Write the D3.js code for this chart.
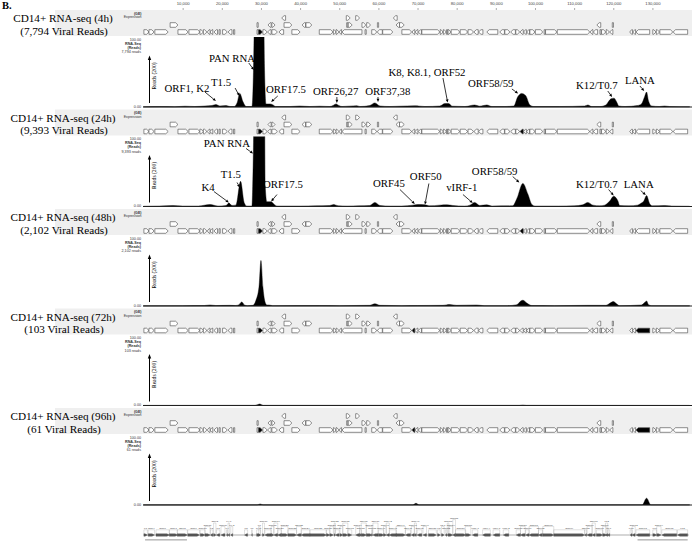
<!DOCTYPE html>
<html><head><meta charset="utf-8">
<script src="https://cdn.jsdelivr.net/npm/d3@7"></script>
<style>body{margin:0;background:#fff}svg{display:block}</style>
</head><body><svg id="c" width="696" height="541"></svg>
<script>
// ---------------- DATA ----------------
const axisTicks = [10,20,30,40,50,60,70,80,90,100,110,120,130]; // kb
const panelTitles = ["CD14+ RNA-seq (4h)","CD14+ RNA-seq (24h)","CD14+ RNA-seq (48h)","CD14+ RNA-seq (72h)","CD14+ RNA-seq (96h)"];
const viralReads = ["7,794","9,393","2,102","103","61"];

// coverage: [position kb, reads (% of 100.00 scale)]
const cov4h = [[0,0.4],[4.2,0.7],[8.0,0.4],[10.6,1.2],[13.1,0.7],[15.7,1.5],[17.5,2.2],[18.5,3.7],[19.5,1.5],[21.1,2.2],[22.1,0.7],[23.1,0.7],[23.9,6],[24.6,20],[25.4,8],[26.2,0.7],[27.7,0.7],[28.2,90],[28.5,250],[30.5,250],[30.9,60],[31.3,4.5],[32.3,4.5],[33.1,3],[33.8,0.7],[37.4,0.7],[39.9,1.5],[42.5,0.7],[45.0,1.2],[47.6,0.7],[48.4,2.2],[49.2,4.5],[49.9,2.2],[50.7,0.7],[54.5,2],[55.3,0.7],[57.8,2.2],[59.1,6],[60.4,1.5],[62.9,0.7],[65.5,1.2],[69.3,1.8],[71.9,0.7],[75.7,1.5],[77.0,5],[78.0,5],[78.8,1.2],[82.1,0.7],[84.6,3],[85.9,1.2],[87.7,3],[89.0,0.7],[92.3,0.7],[94.6,1.5],[95.6,15],[96.6,20],[97.6,17],[98.7,3],[99.7,0.7],[106.3,0.7],[112.7,1.5],[113.5,3],[114.5,0.7],[116.6,0.7],[118.1,3],[119.4,12],[120.2,13],[120.9,7],[121.4,1.5],[123.0,0.7],[126.2,2.2],[127.2,4.5],[128.0,15],[128.5,22],[129.0,9],[129.8,1.5],[131.8,0.7],[133.1,1.5],[134.4,0.7],[139.5,0.4]];
const cov24h = [[0,0.4],[4.0,0.7],[7.5,1.5],[10.0,0.7],[14.0,0.7],[17.0,3],[19.0,0.7],[21.1,1.5],[21.8,5],[22.6,1.5],[23.6,2],[24.8,37],[25.7,6],[26.4,0.7],[27.7,0.7],[28.0,60],[28.5,250],[30.8,250],[31.1,30],[31.5,7],[32.6,7],[33.6,2],[34.3,0.7],[40,0.7],[44,1],[47.6,1.5],[48.6,3],[49.7,1],[52,0.7],[55,1],[57.8,1.5],[59.1,6],[60.4,1.5],[63,0.7],[66,0.7],[68.8,2],[70.1,3],[71.9,2.5],[73.1,1],[75.7,2],[77.5,2.5],[79.0,1.5],[82,0.7],[83.4,2],[84.6,6],[85.9,1.5],[87.7,2.5],[89,0.7],[94.3,1],[95.4,12],[96.9,34],[98.2,18],[99.2,3],[100.0,0.7],[106,0.7],[110,1],[112.2,2.5],[113.5,6],[114.8,2],[116.5,1],[117.8,2],[119.1,8],[120.1,15],[121.2,8],[121.6,1.5],[124,1],[126.2,2],[127.0,4.5],[127.8,8],[128.5,16],[129.3,4],[130.0,1],[133.1,1.5],[135,0.7],[139.5,0.4]];
const cov48h = [[0,0.3],[10,0.5],[15.5,0.7],[17.0,1.5],[18.5,0.7],[22.1,1],[23.5,0.7],[24.4,2],[25.1,6],[25.8,1.5],[26.5,0.5],[28.0,1],[28.7,8],[29.5,28],[30.0,67],[30.5,28],[31.0,7],[31.5,1.5],[32.0,1.5],[33,0.5],[45,0.7],[50,0.5],[57.8,1],[59.1,3.3],[60.4,1],[66,0.5],[70,0.7],[76.5,1],[78.2,2.2],[80,1],[85.1,1.5],[87,0.5],[93,0.5],[95.4,2],[96.3,7],[96.9,8.5],[98.0,4],[99.2,0.7],[105,0.5],[113.5,1],[118.1,1],[119.4,5],[120.0,6.5],[120.9,3],[121.6,0.5],[127.2,1.5],[128.0,5],[128.5,7.5],[129.0,2],[129.8,0.5],[139.5,0.3]];
const cov72h = [[0,0.2],[28.5,0.3],[29.7,2.2],[30.6,0.3],[96.0,0.3],[96.9,0.8],[97.8,0.3],[139.5,0.2]];
const cov96h = [[0,0.2],[29.0,0.2],[29.8,1.5],[30.6,0.2],[68.8,0.2],[69.6,2.5],[70.4,0.2],[127.4,0.3],[128.5,10],[129.6,0.3],[139.5,0.2]];
const coverage = [cov4h, cov24h, cov48h, cov72h, cov96h];

// peak annotations: [text, label kb, label value, arrow tail kb, tail value, tip kb, tip value]
const notes4h = [
  ["ORF1, K2",11.1,22,15.7,22,18.5,8.8],
  ["T1.5",19.8,30.9,23.4,27.9,24.5,16.2],
  ["PAN RNA",22.6,66,26.9,64.7,28.2,54.4],
  ["ORF17.5",36.4,20.6,34.3,16.2,32.6,7.4],
  ["ORF26,27",49.1,17.6,49.4,14.7,49.4,5.9],
  ["ORF37,38",62.4,17.6,59.9,14.7,59.9,7.4],
  ["K8, K8.1, ORF52",72.4,45.6,76.5,42.6,77.7,6.6],
  ["ORF58/59",88.7,29.4,94.1,26.5,95.7,19.9],
  ["K12/T0.7",115.8,26.5,118.6,23.5,119.7,14.7],
  ["LANA",126.8,33.8,126.8,30.9,127.9,23.5]
];
const notes24h = [
  ["PAN RNA",21.3,88.2,26.2,85.3,28.0,77.9],
  ["T1.5",22.3,41.2,23.9,35.3,24.6,27.9],
  ["K4",16.5,23.5,18.0,22,21.8,5.9],
  ["ORF17.5",35.6,26.5,34.1,17.6,32.6,7.4],
  ["ORF45",62.7,29.4,65.5,25,69.3,3.7],
  ["ORF50",72.1,39.7,72.9,33.8,71.9,2.9],
  ["vIRF-1",81.3,23.5,81.6,17.6,84.1,5.1],
  ["ORF58/59",89.7,45.6,94.3,44.1,96.0,35.3],
  ["K12/T0.7",115.8,26.5,118.8,25,120.1,16.2],
  ["LANA",126.5,26.5,127.0,23.5,128.3,16.9]
];
const notes = [notes4h, notes24h, [], [], []];

// expression-track gene glyphs: [start kb, end kb, strand (1 right, -1 left, 0 bar), row]
const genes = [
 [0.1,1.4,1,0],[1.4,2.7,1,0],[2.9,6.3,1,0],[6.8,8.8,1,1],[8.8,11.4,1,0],[11.6,14.4,1,0],[14.4,15.3,1,0],[15.3,16.2,1,0],
 [16.3,17.0,-1,0],[17.0,17.7,-1,0],[18.0,18.9,-1,0],[19.0,19.9,0,0],[20.2,21.4,1,0],[21.6,22.6,-1,0],[23.0,23.3,0,0],
 [29.0,29.3,0,0],[29.0,29.3,0,1],[29.4,30.4,1,0],[30.5,31.6,1,0],[31.7,32.6,-1,0],[32.8,34.2,1,0],[34.6,35.8,-1,0],
 [31.8,32.6,-1,1],[32.8,33.6,1,1],[35.9,37.9,1,1],[35.3,36.3,-1,2],
 [37.9,40.0,1,0],[40.5,41.4,-1,1],[41.5,43.0,1,1],[44.9,48.4,1,0],[48.5,49.2,1,0],[49.2,49.9,1,0],[50.0,50.6,-1,0],[50.7,55.8,-1,0],
 [51.9,52.2,0,1],[52.3,53.3,1,1],[51.8,52.8,1,2],[54.2,55.2,1,2],[55.8,56.8,1,1],[57.0,58.0,1,1],[59.8,60.0,0,1],
 [56.6,56.9,0,0],[58.3,59.6,1,0],[59.7,61.0,-1,0],[61.1,63.7,1,0],[63.8,64.8,-1,2],[64.5,65.4,-1,1],[65.4,66.6,1,1],
 [66.0,68.5,1,0],[68.6,69.3,-1,0],[69.4,70.1,-1,0],[70.2,71.0,-1,0],[71.1,75.7,1,0],[75.8,76.5,1,0],[76.6,77.3,1,0],[77.4,77.7,0,0],
 [77.8,78.5,1,0],[78.6,80.8,1,0],[80.9,82.8,1,0],[82.9,84.3,1,0],[84.4,85.5,-1,0],[85.6,86.7,-1,0],[87.7,90.5,-1,0],[91.0,92.2,-1,0],
 [92.3,93.6,1,0],[93.8,95.0,-1,0],[95.1,96.1,1,0],[96.2,97.0,-1,0],[97.1,97.8,-1,0],[97.9,98.6,-1,0],[98.7,100.0,1,0],[100.1,102.0,1,0],
 [102.4,102.6,0,0],[102.7,105.6,1,0],[105.7,114.0,1,0],[114.1,114.8,-1,0],[114.9,116.0,-1,0],[116.6,116.9,0,0],[117.0,118.1,1,0],
 [118.2,119.0,1,0],[119.1,119.9,-1,0],[115.8,116.8,-1,1],[119.8,120.0,0,1],
 [124.2,124.9,-1,0],[125.0,125.7,-1,0],[125.8,129.3,-1,0],[130.1,130.9,1,0],[131.0,131.8,1,0],[131.9,135.2,1,0],[135.3,139.0,-1,0]
];
// genes drawn filled in each panel (by start kb)
const highlighted = [[29.4],[29.4,96.2],[29.4,96.2],[29.4,68.6,125.8],[29.4,68.6,125.8]];

// bottom genome map: [name, start kb, end kb, strand]
const mapGenes = [
 ["K1",0.1,1.0,1],["ORF4",1.2,2.8,1],["ORF6",3.2,6.6,1],["ORF7",6.6,8.7,1],["ORF8",8.6,11.2,1],["ORF9",11.3,14.3,1],
 ["ORF10",14.5,15.7,1],["ORF11",15.7,17.0,1],["K2",17.1,17.7,-1],["ORF2",17.9,18.5,1],["K3",18.6,19.5,-1],["ORF70",19.8,20.8,-1],
 ["K4",21.2,21.5,-1],["K4.1",21.6,22.0,-1],["K4.2",22.3,22.8,-1],["K5",25.8,26.6,-1],["K6",27.6,27.8,-1],
 ["PAN",28.9,29.9,1],["K7",29.4,29.8,1],["ORF16",30.4,30.9,1],["ORF17",31.0,32.6,-1],["ORF18",32.6,33.3,1],
 ["ORF19",33.3,34.3,-1],["ORF20",34.3,35.2,-1],["ORF21",35.2,36.9,1],["ORF22",36.9,39.1,1],["ORF23",39.1,40.3,-1],
 ["ORF24",40.3,42.5,-1],["ORF25",42.5,46.7,1],["ORF26",46.7,47.6,1],["ORF27",47.6,48.5,1],["ORF28",48.7,49.0,1],
 ["ORF29",49.0,50.0,-1],["ORF31",50.2,50.9,1],["ORF32",50.9,52.2,1],["ORF33",52.2,53.2,1],["ORF34",54.2,55.2,-1],
 ["ORF35",55.2,55.7,1],["ORF36",55.6,56.9,1],["ORF37",56.9,58.4,1],["ORF38",58.3,58.5,1],["ORF39",58.6,59.9,-1],
 ["ORF40",60.0,61.4,1],["ORF41",61.3,62.0,1],["ORF42",62.0,62.8,-1],["ORF43",62.8,64.6,-1],["ORF44",64.5,66.9,1],
 ["ORF45",66.9,68.2,-1],["ORF46",68.4,69.2,-1],["ORF47",69.2,69.7,-1],["ORF48",69.9,71.1,-1],["ORF49",71.4,72.3,-1],
 ["ORF50",72.8,74.8,1],["K8",75.1,75.8,1],["K8.1",76.1,76.8,1],["ORF52",77.1,77.5,-1],["ORF53",77.6,78.0,-1],
 ["ORF54",78.0,79.0,1],["ORF55",79.0,79.7,-1],["ORF56",79.7,82.3,1],["ORF57",82.2,83.6,1],["vIRF-1",84.0,85.4,-1],
 ["vIRF-4",86.6,88.6,-1],["vIRF-3",89.3,91.0,-1],["vIRF-2",91.9,93.3,-1],["ORF58",95.2,96.3,-1],["ORF59",96.3,97.5,-1],
 ["ORF60",97.6,98.5,-1],["ORF61",98.5,100.9,-1],["ORF62",100.9,101.9,-1],["ORF63",102.0,104.8,1],["ORF64",104.8,112.7,1],
 ["ORF65",112.7,113.2,-1],["ORF66",113.3,114.6,-1],["ORF67",114.6,115.4,-1],["ORF68",115.7,117.3,1],["ORF69",117.3,118.3,1],
 ["K12",118.0,118.6,-1],["T0.7",118.6,119.1,-1],["K13",124.3,124.8,-1],["ORF72",124.8,125.6,-1],["ORF73",125.8,129.3,-1],
 ["K14",130.1,131.1,1],["ORF74",131.1,132.2,1],["ORF75",132.4,136.2,-1],["K15",136.4,139.0,-1]
];
const mapBars = [[0.4,11.1],[126.2,139.0]];

// ---------------- DRAW ----------------
const svg = d3.select("#c");
const serif = "'Liberation Serif','Times New Roman',serif";
const sans = "'Liberation Sans',Arial,sans-serif";
const x = d3.scaleLinear().domain([0,139.6]).range([143.5,690]);
const trackH = 68;
const tops = panelTitles.map((d,i)=>39 + i*99.5);

svg.append("text").attr("x",2).attr("y",9.4).attr("font-family",serif).attr("font-weight","bold")
  .attr("font-size",10.5).text("B.");

const axG = svg.append("g").attr("transform","translate(0,11)")
  .call(d3.axisTop(x).tickValues(axisTicks).tickSize(3).tickFormat(d=>d3.format(",")(d*1000)));
axG.select(".domain").remove();
axG.selectAll("line").attr("stroke","#555").attr("stroke-width",0.5);
axG.selectAll("text").attr("font-family",sans).attr("font-size",4.2).attr("fill","#444").attr("dy","0.1em");

function glyphPath(s,e,strand,yc,h){
  let a=x(s), b=x(e); let w=b-a;
  if(strand===0){ const c=(a+b)/2; return `M${c-0.6},${yc-h/2}h1.2v${h}h-1.2Z`; }
  const tip=Math.min(2.4,w*0.7);
  if(strand===1) return `M${a},${yc-h/2}L${b-tip},${yc-h/2}L${b},${yc}L${b-tip},${yc+h/2}L${a},${yc+h/2}Z`;
  return `M${b},${yc-h/2}L${a+tip},${yc-h/2}L${a},${yc}L${a+tip},${yc+h/2}L${b},${yc+h/2}Z`;
}

tops.forEach((T,i)=>{
  const B = T + trackH;
  const g = svg.append("g");
  g.append("rect").attr("x",55).attr("y",T-29).attr("width",637).attr("height",26).attr("fill","#efefef");
  g.append("text").attr("x",63).attr("y",T-17).attr("text-anchor","middle").attr("font-family",serif)
    .attr("font-size",11.2).text(panelTitles[i]);
  g.append("text").attr("x",64).attr("y",T-4.4).attr("text-anchor","middle").attr("font-family",serif)
    .attr("font-size",11.2).text("("+viralReads[i]+" Viral Reads)");
  g.append("text").attr("x",141.5).attr("y",T-24.5).attr("text-anchor","end").attr("font-family",sans)
    .attr("font-size",3.6).attr("font-weight","bold").attr("fill","#333").text("(GE)");
  g.append("text").attr("x",141.5).attr("y",T-21).attr("text-anchor","end").attr("font-family",sans)
    .attr("font-size",3.6).attr("fill","#333").text("Expression");
  const small = ["100.00","RNA-Seq","(Reads)",viralReads[i]+" reads"];
  small.forEach((t,k)=>g.append("text").attr("x",141).attr("y",T+1.5+k*4.2).attr("text-anchor","end")
    .attr("font-family",sans).attr("font-size",3.7).attr("font-weight",k>0&&k<3?"bold":"normal").attr("fill","#333").text(t));
  g.append("text").attr("x",141).attr("y",B+0.5).attr("text-anchor","end").attr("font-family",sans)
    .attr("font-size",3.7).attr("fill","#333").text("0.00");
  const rowY = [T-7, T-14, T-21];
  g.selectAll("path.gene").data(genes).join("path").attr("class","gene")
    .attr("d",d=>glyphPath(d[0],d[1],d[2],rowY[d[3]],4.6))
    .attr("fill",d=>highlighted[i].includes(d[0])&&d[3]===0?"#000":"#fff")
    .attr("stroke","#444").attr("stroke-width",0.6);
  g.append("line").attr("x1",149.5).attr("x2",149.5).attr("y1",B-4).attr("y2",T+20)
    .attr("stroke","#000").attr("stroke-width",1);
  g.append("path").attr("d",`M147.8,${T+21}L149.5,${T+16.5}L151.2,${T+21}Z`).attr("fill","#000");
  g.append("text").attr("transform",`translate(156,${T+37}) rotate(-90)`).attr("text-anchor","middle")
    .attr("font-family",serif).attr("font-size",5.6).text("Reads (200)");
  const y = d3.scaleLinear().domain([0,100]).range([B,T]);
  const cid = "clip"+i;
  svg.append("clipPath").attr("id",cid).append("rect").attr("x",140).attr("y",T-2).attr("width",556).attr("height",trackH+3);
  g.append("path").datum(coverage[i]).attr("clip-path",`url(#${cid})`)
    .attr("d",d3.area().x(d=>x(d[0])).y0(B).y1(d=>y(d[1])).curve(d3.curveMonotoneX))
    .attr("fill","#000").attr("stroke","#000").attr("stroke-width",0.4);
  g.append("line").attr("x1",143).attr("x2",692).attr("y1",B).attr("y2",B).attr("stroke","#222").attr("stroke-width",1);
  notes[i].forEach(n=>{
    g.append("text").attr("x",x(n[1])).attr("y",y(n[2])).attr("text-anchor","middle")
      .attr("font-family",serif).attr("font-size",10.8).text(n[0]);
    const x1=x(n[3]), y1=y(n[4]), x2=x(n[5]), y2=y(n[6]);
    const ang=Math.atan2(y2-y1,x2-x1), L=3.2, W=1.4;
    const bx=x2-L*Math.cos(ang), by=y2-L*Math.sin(ang);
    g.append("line").attr("x1",x1).attr("y1",y1).attr("x2",bx).attr("y2",by).attr("stroke","#000").attr("stroke-width",0.8);
    g.append("path").attr("d",`M${x2},${y2}L${bx-W*Math.sin(ang)},${by+W*Math.cos(ang)}L${bx+W*Math.sin(ang)},${by-W*Math.cos(ang)}Z`).attr("fill","#000");
  });
});

// bottom genome map (label tiers computed to avoid overlaps)
const mapRow = 535, tierY = [529,525.6,522.2,518.8,515.4,512];
const mg = svg.append("g");
mg.selectAll("rect.bar").data(mapBars).join("rect").attr("class","bar")
  .attr("x",d=>x(d[0])).attr("width",d=>x(d[1])-x(d[0])).attr("y",539).attr("height",1.6).attr("fill","#bdbdbd");
mg.append("line").attr("x1",x(0)).attr("x2",x(139.3)).attr("y1",mapRow).attr("y2",mapRow).attr("stroke","#777").attr("stroke-width",0.6);
const lastRight = tierY.map(()=>-1e9);
mapGenes.forEach(d=>{
  const a=x(d[1]), b=x(d[2]), c=(a+b)/2;
  const t = mg.append("text").attr("x",c).attr("text-anchor","middle").attr("font-family",sans)
    .attr("font-size",2.5).attr("fill","#444").text(d[0]);
  const w = t.node().getComputedTextLength();
  let tier = lastRight.findIndex(r=>r+0.8 < c-w/2);
  if(tier<0){ tier = lastRight.indexOf(d3.min(lastRight)); }
  lastRight[tier] = c+w/2;
  const ty = tierY[tier];
  t.attr("y",ty);
  mg.insert("path","text").attr("d",`M${a},${mapRow-1}V${ty+0.8}H${b}V${mapRow-1}`).attr("fill","none")
    .attr("stroke","#999").attr("stroke-width",0.3);
  mg.append("path").attr("d",glyphPath(d[1],d[2],d[3],mapRow,2.6)).attr("fill","#555").attr("stroke","#444").attr("stroke-width",0.3);
});
</script></body></html>
